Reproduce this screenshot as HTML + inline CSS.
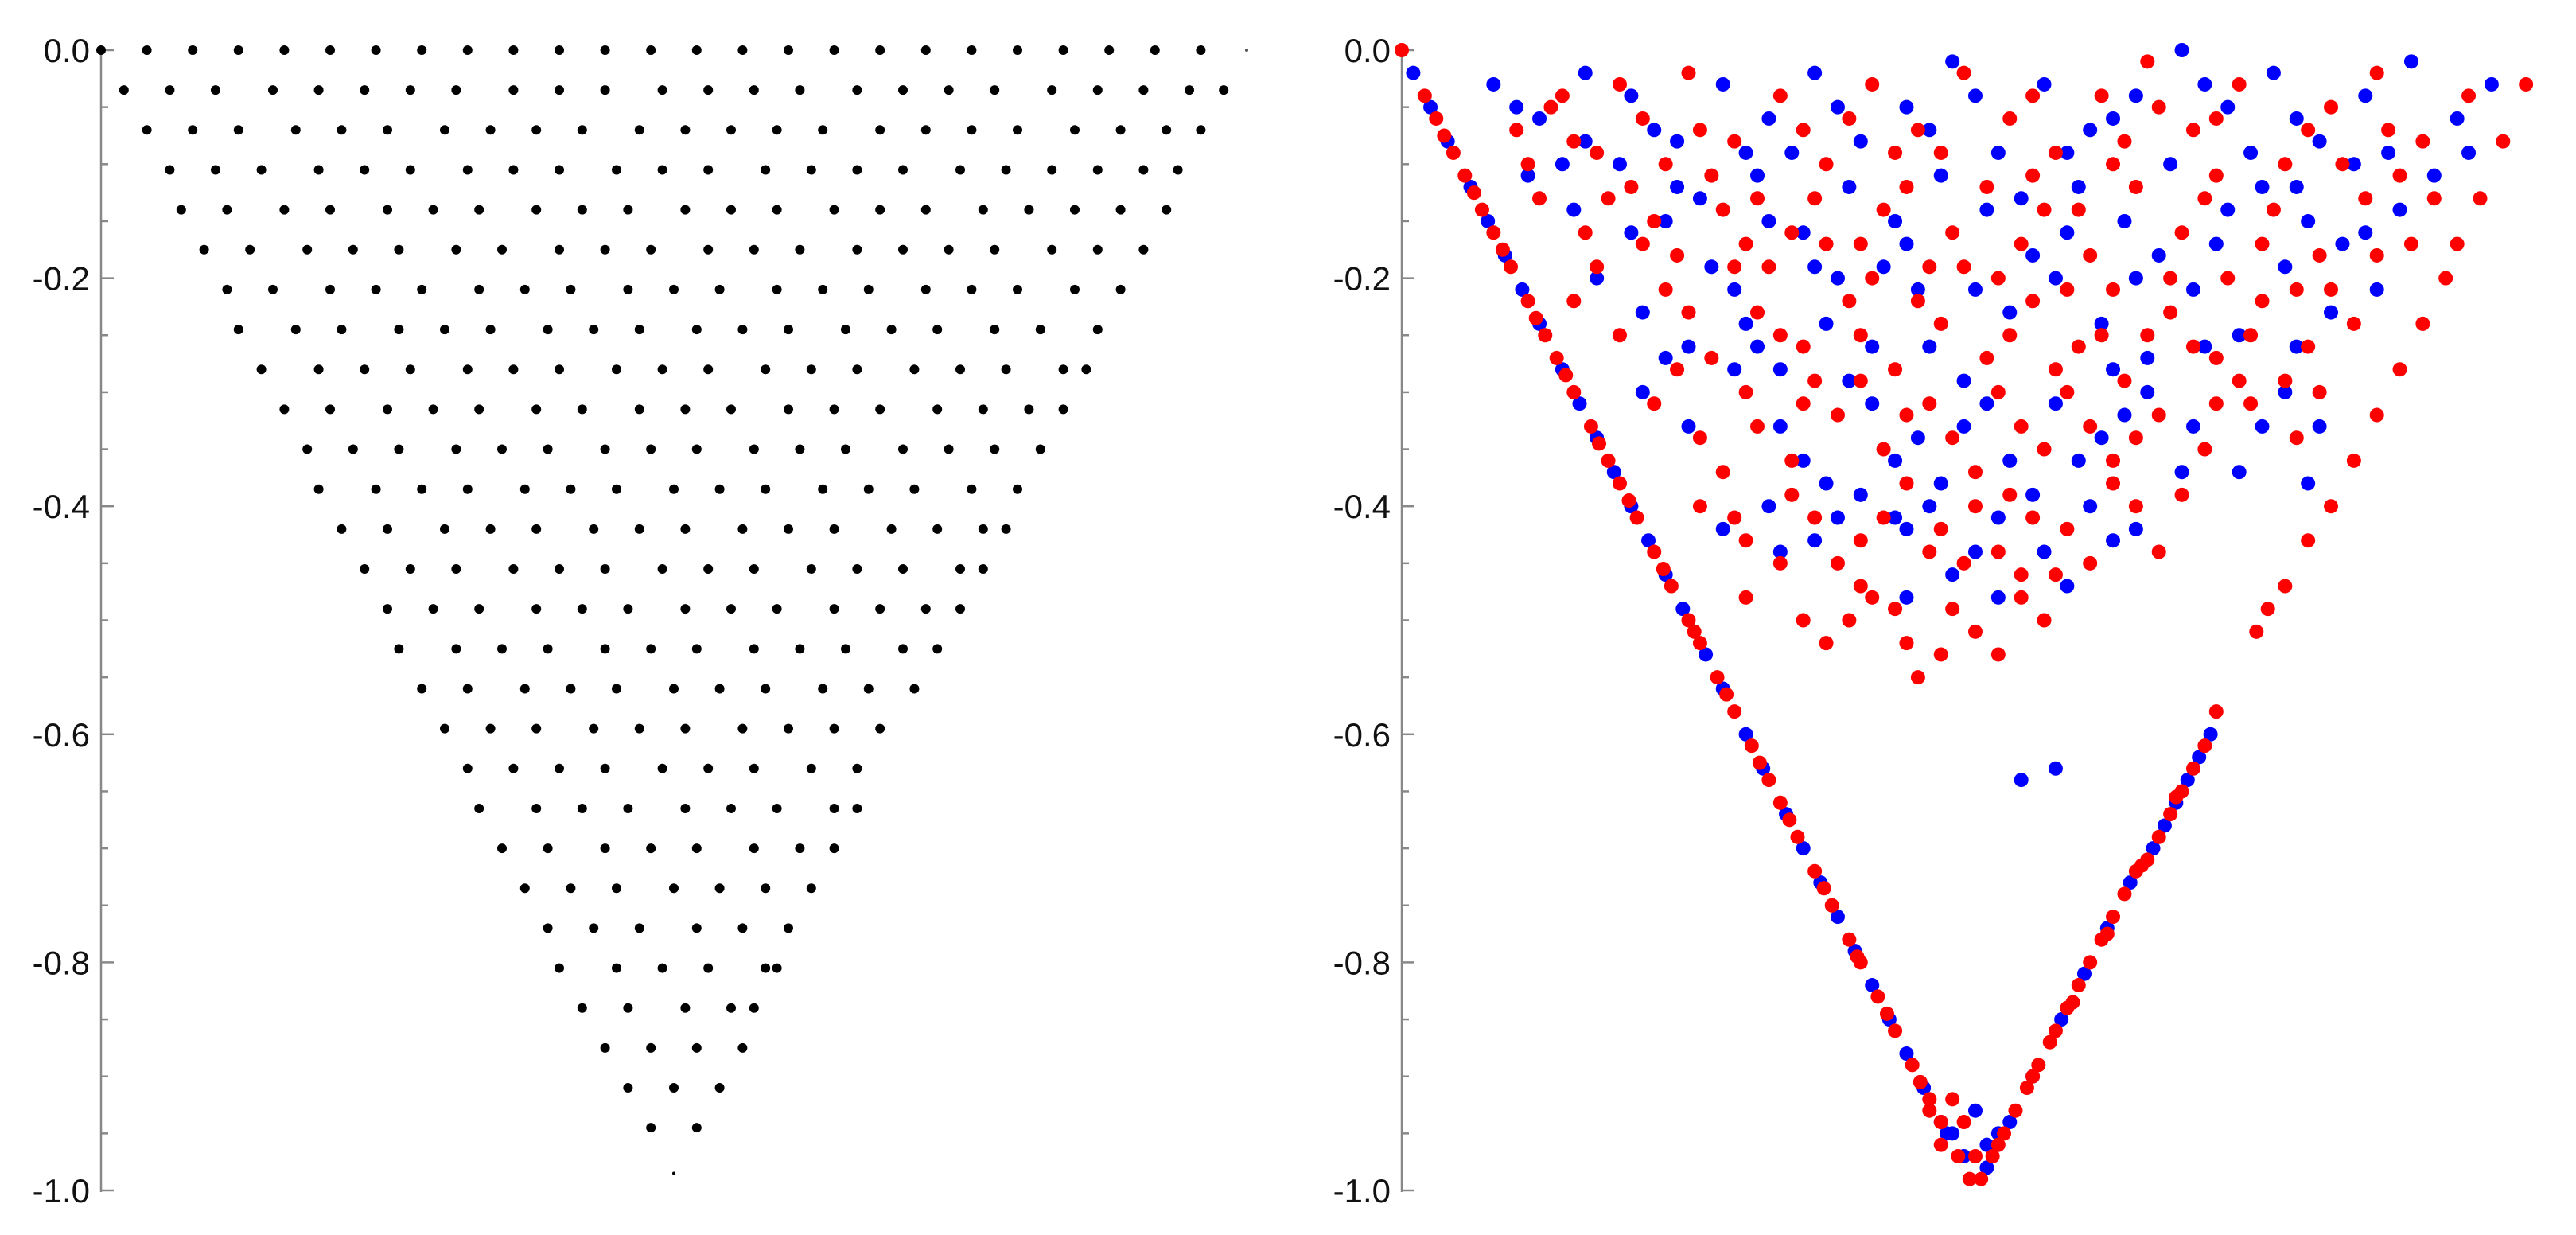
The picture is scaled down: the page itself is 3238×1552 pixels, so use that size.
<!DOCTYPE html>
<html><head><meta charset="utf-8"><style>
html,body{margin:0;padding:0;background:#fff;}
svg{display:block;}
text{font-family:"Liberation Sans",sans-serif;font-size:42px;fill:#111;}
</style></head><body>
<svg id="chart" width="3238" height="1552" viewBox="0 0 3238 1552" xmlns="http://www.w3.org/2000/svg">
<g id="leftPanel"></g>
<g id="rightPanel"></g>
</svg>
<script>
const yTickValues=[0,-0.2,-0.4,-0.6,-0.8,-1.0];
const yTickLabels=["0.0","-0.2","-0.4","-0.6","-0.8","-1.0"];
const leftRowY=[0,-0.035,-0.07,-0.105,-0.14,-0.175,-0.21,-0.245,-0.28,-0.315,-0.35,-0.385,-0.42,-0.455,-0.49,-0.525,-0.56,-0.595,-0.63,-0.665,-0.70,-0.735,-0.77,-0.805,-0.84,-0.875,-0.91,-0.945];
const leftRowX=[
[0,.04,.08,.12,.16,.20,.24,.28,.32,.36,.40,.44,.48,.52,.56,.60,.64,.68,.72,.76,.80,.84,.88,.92,.96],
[.02,.06,.10,.15,.19,.23,.27,.31,.36,.40,.44,.49,.53,.57,.61,.66,.70,.74,.78,.83,.87,.91,.95,.98],
[.04,.08,.12,.17,.21,.25,.30,.34,.38,.42,.47,.51,.55,.59,.63,.68,.72,.76,.80,.85,.89,.93,.96],
[.06,.10,.14,.19,.23,.27,.32,.36,.40,.45,.49,.53,.58,.62,.66,.70,.75,.79,.83,.87,.91,.94],
[.07,.11,.16,.20,.25,.29,.33,.38,.42,.46,.51,.55,.59,.64,.68,.72,.77,.81,.85,.89,.93],
[.09,.13,.18,.22,.26,.31,.35,.40,.44,.48,.53,.57,.61,.66,.70,.74,.78,.83,.87,.91],
[.11,.15,.20,.24,.28,.33,.37,.41,.46,.50,.54,.59,.63,.67,.72,.76,.80,.85,.89],
[.12,.17,.21,.26,.30,.34,.39,.43,.47,.52,.56,.60,.65,.69,.73,.78,.82,.87],
[.14,.19,.23,.27,.32,.36,.40,.45,.49,.53,.58,.62,.66,.71,.75,.79,.84,.86],
[.16,.20,.25,.29,.33,.38,.42,.47,.51,.55,.60,.64,.68,.73,.77,.81,.84],
[.18,.22,.26,.31,.35,.39,.44,.48,.52,.57,.61,.65,.70,.74,.78,.82],
[.19,.24,.28,.32,.37,.41,.45,.50,.54,.58,.63,.67,.71,.76,.80],
[.21,.25,.30,.34,.38,.43,.47,.51,.56,.60,.64,.69,.73,.77,.79],
[.23,.27,.31,.36,.40,.44,.49,.53,.57,.62,.66,.70,.75,.77],
[.25,.29,.33,.38,.42,.46,.51,.55,.59,.64,.68,.72,.75],
[.26,.31,.35,.39,.44,.48,.52,.57,.61,.65,.70,.73],
[.28,.32,.37,.41,.45,.50,.54,.58,.63,.67,.71],
[.30,.34,.38,.43,.47,.51,.56,.60,.64,.68],
[.32,.36,.40,.44,.49,.53,.57,.62,.66],
[.33,.38,.42,.46,.51,.55,.59,.64,.66],
[.35,.39,.44,.48,.52,.57,.61,.64],
[.37,.41,.45,.50,.54,.58,.62],
[.39,.43,.47,.52,.56,.60],
[.40,.45,.49,.53,.58,.59],
[.42,.46,.51,.55,.57],
[.44,.48,.52,.56],
[.46,.50,.54],
[.48,.52]];
const redCloud=[[.10,-.07],[.13,-.05],[.17,-.09],[.21,-.06],[.25,-.02],[.29,-.08],[.33,-.04],[.37,-.10],[.41,-.03],[.45,-.07],[.49,-.02],[.53,-.06],[.57,-.09],[.61,-.04],[.65,-.01],[.69,-.07],[.73,-.03],[.77,-.10],[.81,-.05],[.85,-.02],[.89,-.08],[.93,-.04],
[.12,-.13],[.16,-.16],[.20,-.12],[.24,-.18],[.28,-.14],[.32,-.19],[.36,-.13],[.40,-.17],[.44,-.12],[.48,-.16],[.52,-.20],[.56,-.14],[.60,-.18],[.64,-.12],[.68,-.16],[.72,-.20],[.76,-.14],[.80,-.18],[.84,-.13],[.88,-.17],
[.15,-.22],[.19,-.25],[.23,-.21],[.27,-.27],[.31,-.23],[.35,-.26],[.39,-.22],[.43,-.28],[.47,-.24],[.51,-.27],[.55,-.22],[.59,-.26],[.63,-.29],[.67,-.23],[.71,-.27],[.75,-.22],[.79,-.26],[.83,-.24],
[.22,-.31],[.26,-.34],[.30,-.30],[.34,-.36],[.38,-.32],[.42,-.35],[.46,-.31],[.50,-.37],[.54,-.33],[.58,-.30],[.62,-.36],[.66,-.32],[.70,-.35],[.74,-.31],[.78,-.34],
[.26,-.40],[.30,-.43],[.34,-.39],[.38,-.45],[.42,-.41],[.46,-.44],[.50,-.40],[.54,-.46],[.58,-.42],[.62,-.38],[.66,-.44],
[.30,-.48],[.35,-.50],[.40,-.47],[.44,-.52],[.48,-.49],[.52,-.53],[.56,-.50],[.45,-.55],
[.14,-.04],[.19,-.03],[.27,-.11],[.35,-.07],[.43,-.09],[.55,-.11],[.63,-.08],[.71,-.11],[.79,-.07],[.87,-.11],[.22,-.15],[.30,-.17],[.46,-.19],[.54,-.17],[.62,-.21],[.70,-.13],[.78,-.21],[.33,-.25],[.41,-.20],[.57,-.28],[.65,-.25],[.73,-.29],[.28,-.37],[.36,-.29],[.44,-.38],[.52,-.30],[.60,-.33],[.68,-.39],[.33,-.45],[.41,-.48],[.49,-.45],[.57,-.46],[.37,-.52],
[.11,-.10],[.15,-.08],[.18,-.13],[.23,-.10],[.26,-.07],[.31,-.13],[.34,-.16],[.39,-.06],[.42,-.14],[.47,-.09],[.51,-.12],[.55,-.04],[.59,-.14],[.62,-.10],[.66,-.05],[.67,-.20],[.71,-.06],[.75,-.17],[.82,-.10],[.86,-.07],[.90,-.13],
[.17,-.19],[.21,-.17],[.25,-.23],[.29,-.19],[.37,-.17],[.40,-.25],[.45,-.22],[.49,-.19],[.53,-.25],[.58,-.21],[.61,-.25],[.69,-.26],[.74,-.25],[.81,-.21],[.85,-.18],
[.24,-.28],[.31,-.33],[.35,-.31],[.40,-.29],[.44,-.32],[.48,-.34],[.53,-.39],[.56,-.35],[.64,-.34],[.71,-.31],[.77,-.29],[.80,-.30],
[.29,-.41],[.36,-.41],[.40,-.43],[.47,-.42],[.52,-.44],[.55,-.41],[.60,-.45],[.64,-.40],[.39,-.50],[.43,-.49],[.50,-.51],[.54,-.48],[.47,-.53]];
const blueCloud=[[.08,-.03],[.12,-.06],[.16,-.02],[.20,-.04],[.24,-.08],[.28,-.03],[.32,-.06],[.36,-.02],[.40,-.08],[.44,-.05],[.48,-.01],[.52,-.09],[.56,-.03],[.60,-.07],[.64,-.04],[.68,0],[.72,-.05],[.76,-.02],[.80,-.08],[.84,-.04],[.88,-.01],[.92,-.06],[.95,-.03],
[.11,-.11],[.15,-.14],[.19,-.10],[.23,-.15],[.27,-.19],[.31,-.11],[.35,-.16],[.39,-.12],[.43,-.15],[.47,-.11],[.51,-.14],[.55,-.18],[.59,-.12],[.63,-.15],[.67,-.10],[.71,-.17],[.75,-.12],[.79,-.15],[.83,-.10],[.87,-.14],[.90,-.11],
[.17,-.20],[.21,-.23],[.25,-.26],[.29,-.21],[.33,-.28],[.37,-.24],[.41,-.26],[.45,-.21],[.49,-.29],[.53,-.23],[.57,-.20],[.61,-.24],[.65,-.27],[.69,-.21],[.73,-.25],[.77,-.19],[.81,-.23],[.85,-.21],
[.21,-.30],[.25,-.33],[.29,-.28],[.33,-.33],[.37,-.38],[.41,-.31],[.45,-.34],[.49,-.33],[.53,-.36],[.57,-.31],[.61,-.34],[.65,-.30],[.69,-.33],[.73,-.37],[.77,-.30],[.80,-.33],[.79,-.38],
[.28,-.42],[.32,-.40],[.36,-.43],[.40,-.39],[.44,-.42],[.48,-.46],[.52,-.41],[.56,-.44],[.60,-.40],[.64,-.42],[.52,-.48],[.44,-.48],
[.54,-.64],[.57,-.63],[.43,-.41],[.16,-.08],[.26,-.13],[.34,-.09],[.42,-.19],[.58,-.09],[.66,-.18],[.74,-.09],[.82,-.17],[.30,-.24],[.38,-.20],[.46,-.26],[.62,-.28],[.70,-.26],[.35,-.36],[.47,-.38],[.55,-.39],[.68,-.37],
[.10,-.05],[.14,-.10],[.22,-.07],[.30,-.09],[.38,-.05],[.46,-.07],[.50,-.04],[.54,-.13],[.62,-.06],[.70,-.03],[.78,-.06],[.86,-.09],[.93,-.09],
[.20,-.16],[.24,-.12],[.32,-.15],[.36,-.19],[.44,-.17],[.50,-.21],[.58,-.16],[.64,-.20],[.72,-.14],[.78,-.12],[.84,-.16],
[.23,-.27],[.31,-.26],[.39,-.29],[.43,-.36],[.51,-.31],[.59,-.36],[.63,-.32],[.75,-.33],[.78,-.26],
[.33,-.44],[.38,-.41],[.46,-.40],[.50,-.44],[.58,-.47],[.62,-.43]];
const redEdge=[[0,0],[.02,-.04],[.03,-.06],[.045,-.09],[.055,-.11],[.07,-.14],[.08,-.16],[.095,-.19],[.11,-.22],[.125,-.25],[.135,-.27],[.15,-.30],[.165,-.33],[.18,-.36],[.19,-.38],[.205,-.41],[.22,-.44],[.235,-.47],[.25,-.50],[.26,-.52],[.275,-.55],[.29,-.58],[.305,-.61],[.32,-.64],[.33,-.66],[.345,-.69],[.36,-.72],[.375,-.75],[.39,-.78],[.40,-.80],[.415,-.83],[.43,-.86],[.445,-.89],[.46,-.92],[.47,-.94],[.485,-.97],[.495,-.99],
[.037,-.075],[.063,-.125],[.088,-.175],[.117,-.235],[.143,-.285],[.172,-.345],[.198,-.395],[.228,-.455],[.255,-.51],[.283,-.565],[.312,-.625],[.338,-.675],[.368,-.735],[.397,-.795],[.423,-.845],[.452,-.905],
[.98,-.03],[.96,-.08],[.94,-.13],[.92,-.17],[.91,-.20],[.89,-.24],[.87,-.28],[.85,-.32],[.83,-.36],[.81,-.40],[.79,-.43],[.77,-.47],[.755,-.49],[.745,-.51],[.71,-.58],[.70,-.61],[.69,-.63],[.68,-.65],[.67,-.67],[.66,-.69],[.65,-.71],[.64,-.72],[.63,-.74],[.62,-.76],[.61,-.78],[.60,-.80],[.59,-.82],[.58,-.84],[.57,-.86],[.565,-.87],[.555,-.89],[.545,-.91],[.535,-.93],[.525,-.95],[.515,-.97],[.505,-.99],
[.675,-.655],[.645,-.715],[.615,-.775],[.585,-.835],[.55,-.90],
[.46,-.93],[.48,-.92],[.47,-.96],[.50,-.97],[.52,-.96],[.49,-.94]];
const blueEdge=[[.01,-.02],[.025,-.05],[.04,-.08],[.06,-.12],[.075,-.15],[.09,-.18],[.105,-.21],[.12,-.24],[.14,-.28],[.155,-.31],[.17,-.34],[.185,-.37],[.20,-.40],[.215,-.43],[.23,-.46],[.245,-.49],[.265,-.53],[.28,-.56],[.30,-.60],[.315,-.63],[.335,-.67],[.35,-.70],[.365,-.73],[.38,-.76],[.395,-.79],[.41,-.82],[.425,-.85],[.44,-.88],[.455,-.91],[.475,-.95],
[.705,-.60],[.695,-.62],[.685,-.64],[.675,-.66],[.665,-.68],[.655,-.70],[.635,-.73],[.615,-.77],[.595,-.81],[.575,-.85],[.55,-.90],[.53,-.94],[.51,-.96],
[.48,-.95],[.49,-.97],[.51,-.98],[.52,-.95],[.47,-.94],[.50,-.93]];

const NS="http://www.w3.org/2000/svg";
const Y0=63,Y1=1496;
function yS(v){return Y0+(-v)*(Y1-Y0);}
function mk(tag,attrs,parent){const e=document.createElementNS(NS,tag);for(const k in attrs)e.setAttribute(k,attrs[k]);parent.appendChild(e);return e;}
function axis(g,ax,prefix){
  const ln=mk('line',{x1:ax,y1:Y0-4,x2:ax,y2:Y1+2,stroke:'#888','stroke-width':2.5},g);
  
  
  for(let i=0;i<=20;i++){
    const v=-i*0.05;const major=i%4===0;
    const t=mk('line',{x1:ax,y1:yS(v),x2:ax+(major?16:9),y2:yS(v),stroke:'#888','stroke-width':2.5},g);
    
    
  }
  yTickValues.forEach((v,i)=>{
    const tx=mk('text',{x:ax-14,y:yS(v)+15,'text-anchor':'end'},g);
    tx.textContent=yTickLabels[i];
    
    
  });
}
const LX0=127,LX1=1567;
function lx(v){return LX0+v*(LX1-LX0);}
const gl=document.getElementById('leftPanel');
axis(gl,LX0,'left');
leftRowY.forEach((y,r)=>{
  leftRowX[r].forEach(x=>{
    const c=mk('circle',{cx:lx(x),cy:yS(y),r:6,fill:'#000'},gl);
    
    
  });
});
const tip=mk('circle',{cx:lx(0.5),cy:yS(-0.985),r:2,fill:'#000'},gl);


const tr=mk('circle',{cx:lx(1.0),cy:yS(0),r:2,fill:'#555'},gl);


const RX0=1762,RX1=3204;
function rx(v){return RX0+v*(RX1-RX0);}
const gr=document.getElementById('rightPanel');
axis(gr,RX0,'right');
function plot(arr,color,name){
  arr.forEach(p=>{
    const c=mk('circle',{cx:rx(p[0]),cy:yS(p[1]),r:9,fill:color},gr);
    
    
  });
}
plot(blueCloud,'#0000ff','blue-point');
plot(redCloud,'#ff0000','red-point');
plot(blueEdge,'#0000ff','blue-edge-point');
plot(redEdge,'#ff0000','red-edge-point');
</script>
</body></html>
